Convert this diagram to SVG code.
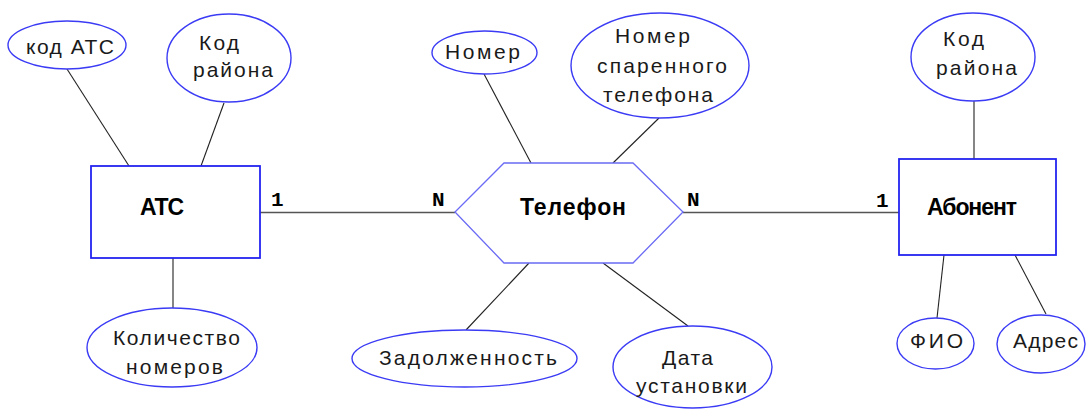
<svg xmlns="http://www.w3.org/2000/svg" width="1086" height="409" viewBox="0 0 1086 409">
<style>
.attr{fill:#fff;stroke:#3b3bf5;stroke-width:1.4}
.ent{fill:#fff;stroke:#2424f0;stroke-width:1.8}
.rel{fill:#fff;stroke:#6a6af5;stroke-width:1.3}
.t{font-family:"Liberation Sans",Arial,sans-serif;font-size:21px;fill:#1a1a1a}
.b{font-family:"Liberation Sans",Arial,sans-serif;font-size:23px;font-weight:bold;fill:#000;text-anchor:middle}
.c{font-family:"Liberation Mono","Courier New",monospace;font-size:21px;font-weight:bold;fill:#000}
.ln{stroke:#222;stroke-width:1.1;fill:none}
.hl{stroke:#555;stroke-width:1.7;fill:none}
</style>
<rect width="1086" height="409" fill="#fff"/>
<g id="connectors">
<line class="ln" x1="67" y1="69" x2="129" y2="166"/>
<line class="ln" x1="224" y1="103" x2="201" y2="166"/>
<line class="ln" x1="173" y1="258" x2="173" y2="308"/>
<line class="hl" x1="260" y1="212.5" x2="455" y2="212.5"/>
<line class="hl" x1="683" y1="212.5" x2="899" y2="212.5"/>
<line class="ln" x1="484" y1="74" x2="531" y2="163"/>
<line class="ln" x1="659" y1="118" x2="613" y2="163"/>
<line class="ln" x1="529" y1="263" x2="466" y2="330"/>
<line class="ln" x1="603" y1="263" x2="688" y2="326"/>
<line class="ln" x1="974" y1="101" x2="974" y2="159"/>
<line class="ln" x1="944" y1="255" x2="937" y2="318"/>
<line class="ln" x1="1015" y1="255" x2="1046" y2="314"/>
<text class="c" x="271" y="206">1</text>
<text class="c" x="432" y="206">N</text>
<text class="c" x="687" y="206">N</text>
<text class="c" x="876" y="207">1</text>
</g>
<g id="atc">
<rect class="ent" x="91" y="166" width="169" height="92"/>
<text class="b" x="162" y="215" textLength="44">АТС</text>
</g>
<g id="kod-atc">
<ellipse class="attr" cx="67" cy="45" rx="59" ry="24"/>
<text class="t" x="26" y="54" textLength="88">код АТС</text>
</g>
<g id="kod-raiona-1">
<ellipse class="attr" cx="229" cy="58" rx="62" ry="44"/>
<text class="t" x="199" y="50" textLength="40">Код</text>
<text class="t" x="193" y="77" textLength="80">района</text>
</g>
<g id="kolichestvo">
<ellipse class="attr" cx="172" cy="347.5" rx="85" ry="39.5"/>
<text class="t" x="113" y="345" textLength="127">Количество</text>
<text class="t" x="126" y="374" textLength="97">номеров</text>
</g>
<g id="telefon">
<polygon class="rel" points="504,163 633,163 683,212 633,263 504,263 455,212"/>
<text class="b" x="573" y="215" textLength="106">Телефон</text>
</g>
<g id="nomer">
<ellipse class="attr" cx="484.5" cy="52.5" rx="52.5" ry="21.5"/>
<text class="t" x="445" y="59" textLength="75">Номер</text>
</g>
<g id="nomer-sparennogo">
<ellipse class="attr" cx="660" cy="65.5" rx="89" ry="52.5"/>
<text class="t" x="615" y="43" textLength="75">Номер</text>
<text class="t" x="597" y="73" textLength="130">спаренного</text>
<text class="t" x="603" y="102" textLength="110">телефона</text>
</g>
<g id="zadolzhennost">
<ellipse class="attr" cx="464.5" cy="358.5" rx="112.5" ry="28.5"/>
<text class="t" x="379" y="365" textLength="178">Задолженность</text>
</g>
<g id="data-ustanovki">
<ellipse class="attr" cx="692.5" cy="367" rx="79.5" ry="41"/>
<text class="t" x="662" y="365" textLength="51">Дата</text>
<text class="t" x="636" y="393" textLength="111">установки</text>
</g>
<g id="abonent">
<rect class="ent" x="899" y="159" width="157" height="96"/>
<text class="b" x="972" y="215" textLength="90">Абонент</text>
</g>
<g id="kod-raiona-2">
<ellipse class="attr" cx="973" cy="57" rx="62" ry="44"/>
<text class="t" x="943" y="46" textLength="41">Код</text>
<text class="t" x="936" y="75" textLength="81">района</text>
</g>
<g id="fio">
<ellipse class="attr" cx="935.5" cy="343.5" rx="38.5" ry="25.5"/>
<text class="t" x="910" y="348" textLength="53">ФИО</text>
</g>
<g id="adres">
<ellipse class="attr" cx="1041" cy="344" rx="44" ry="29"/>
<text class="t" x="1013" y="348" textLength="65">Адрес</text>
</g>
</svg>
